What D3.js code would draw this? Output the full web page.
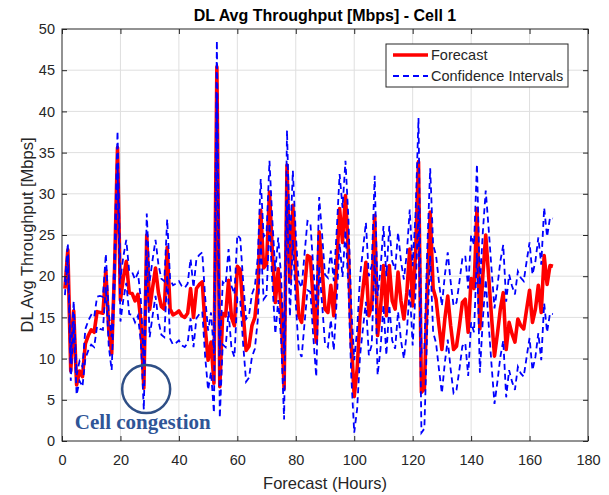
<!DOCTYPE html>
<html>
<head>
<meta charset="utf-8">
<script src="https://cdn.jsdelivr.net/npm/d3@7"></script>
<style>
body{margin:0;background:#fff;}
svg{display:block;}
text{font-family:"Liberation Sans",Arial,sans-serif;fill:#262626;}
.axis path{display:none;}
.axis line{stroke:#262626;}
.axis text{font-size:14.5px;}
.grid line{stroke:#dfdfdf;stroke-width:1;}
.forecast{fill:none;stroke:#ff0000;stroke-width:3.6;stroke-linejoin:round;}
.ci{fill:none;stroke:#0000ff;stroke-width:1.8;stroke-dasharray:6,4;}
.note{fill:#2f5597;font-family:"Liberation Serif","Times New Roman",serif;font-weight:bold;}
</style>
</head>
<body>
<div id="chart"></div>
<script>
// hourly forecast
const hours=d3.range(1,169);

const forecast=[
18.5,23.2,8.5,15.8,6.8,8.5,7.8,11.8,12.8,13.5,
13.2,15.7,15.6,15.5,20.7,13.5,10.6,21.0,35.6,17.1,
19.8,21.8,18.0,17.9,17.0,17.8,14.5,6.4,25.0,16.0,
18.6,21.0,18.0,16.3,16.0,23.5,16.0,15.3,15.5,15.8,
15.2,15.0,15.5,18.5,15.0,18.5,19.0,19.3,13.8,9.8,
12.0,7.0,45.4,6.6,15.5,15.2,19.5,15.0,14.0,21.2,
20.8,15.5,11.0,11.5,14.0,15.0,18.5,28.0,21.0,21.5,
30.2,22.9,16.8,20.9,16.0,6.3,33.5,19.3,28.6,20.9,
15.2,14.4,18.5,22.5,22.3,16.8,12.0,25.4,20.9,16.0,
15.6,18.9,15.2,21.3,28.2,24.1,29.8,22.9,12.0,5.4,
8.7,15.2,18.5,21.7,15.2,16.5,27.4,12.8,16.0,21.3,
15.2,21.3,17.0,16.0,20.5,17.0,14.8,18.0,23.3,16.4,
22.9,33.9,5.9,6.3,18.5,27.8,18.5,17.2,14.0,11.1,
14.8,17.6,14.0,11.1,11.5,14.0,16.8,17.2,13.2,19.7,
18.5,28.2,13.6,20.0,25.0,20.0,15.0,10.3,13.0,16.0,
18.0,11.1,14.4,13.0,12.0,14.8,14.0,13.6,16.0,18.3,
14.4,16.0,18.9,15.6,22.5,19.0,21.3,21.2];

const upper=[
19.3,24.0,9.7,17.0,8.0,9.7,9.0,13.6,14.6,15.3,
15.0,17.5,17.6,17.5,22.7,15.5,12.6,23.0,37.6,19.7,
22.4,24.4,20.6,20.5,19.6,20.4,17.1,9.0,27.6,19.4,
22.0,24.4,21.4,19.7,19.4,26.9,19.6,18.9,19.1,19.4,
18.8,18.6,19.1,22.1,18.6,22.1,22.6,22.9,17.4,13.4,
15.6,10.6,48.6,10.5,19.3,19.0,23.3,18.8,17.8,25.0,
24.6,19.3,14.8,15.3,17.8,18.8,22.3,31.8,24.8,25.3,
34.0,26.7,20.6,24.7,19.8,10.5,37.7,23.5,32.8,25.1,
19.4,18.6,22.7,26.7,26.5,21.0,16.2,29.6,25.1,20.2,
19.8,23.1,19.4,25.5,32.4,28.3,34.0,27.1,16.2,9.8,
13.5,20.0,23.3,26.5,20.0,21.3,32.2,17.6,20.8,26.1,
20.0,26.1,21.8,20.8,25.3,21.8,19.6,22.8,28.1,21.2,
27.7,39.2,10.7,11.1,23.3,33.1,23.8,22.5,19.3,16.4,
20.1,22.9,19.3,16.4,16.8,19.3,22.1,22.5,18.5,25.0,
23.8,33.6,18.9,25.3,30.4,25.8,20.8,16.1,18.8,21.8,
23.8,16.9,20.2,18.8,17.8,20.6,19.8,19.4,21.8,24.1,
20.2,21.8,24.7,21.4,28.3,24.8,27.1,27.0];

const lower=[
17.7,22.4,7.3,14.6,5.6,7.3,6.6,10.0,11.0,11.7,
11.4,13.9,13.6,13.5,18.7,11.5,8.6,19.0,33.6,14.5,
17.2,19.2,15.4,15.3,14.4,15.2,11.9,3.8,22.4,12.6,
15.2,17.6,14.6,12.9,12.6,20.1,12.4,11.7,11.9,12.2,
11.6,11.4,11.9,14.9,11.4,14.9,15.4,15.7,10.2,6.2,
8.4,3.4,41.9,2.8,11.7,11.4,15.7,11.2,10.2,17.4,
17.0,11.7,7.2,7.7,10.2,11.2,14.7,24.2,17.2,17.7,
26.4,19.1,13.0,17.1,12.2,2.6,29.3,15.1,24.4,16.7,
11.0,10.2,14.3,18.3,18.1,12.6,7.8,21.2,16.7,11.8,
11.4,14.7,11.0,17.1,24.0,19.9,25.6,18.7,7.8,1.0,
3.9,10.4,13.7,16.9,10.4,11.7,22.6,8.0,11.2,16.5,
10.4,16.5,12.2,11.2,15.7,12.2,10.0,13.2,18.5,11.6,
18.1,28.6,1.0,1.5,13.7,22.5,13.2,11.9,8.7,5.8,
9.5,12.3,8.7,5.8,6.2,8.7,11.5,11.9,7.9,14.4,
13.2,22.8,8.3,14.7,19.6,14.2,9.2,4.5,7.2,10.2,
12.2,5.3,8.6,7.2,6.2,9.0,8.2,7.8,10.2,12.5,
8.6,10.2,13.1,9.8,16.7,13.2,15.5,15.4];

const xTicks=[0,20,40,60,80,100,120,140,160,180];
const yTicks=[0,5,10,15,20,25,30,35,40,45,50];

const margin={top:29,right:21,bottom:54,left:62},
      W=609-margin.left-margin.right,
      H=495-margin.top-margin.bottom;

const svg=d3.select('#chart').append('svg')
  .attr('width',609).attr('height',495);

const g=svg.append('g').attr('transform',`translate(${margin.left},${margin.top})`);

const x=d3.scaleLinear().domain([0,180]).range([0,W]),
      y=d3.scaleLinear().domain([0,50]).range([H,0]);

g.append('rect').attr('width',W).attr('height',H).attr('fill','#fff');

// grid
const grid=g.append('g').attr('class','grid');
grid.selectAll('.gx').data(xTicks.slice(1,-1)).enter().append('line')
  .attr('x1',d=>x(d)).attr('x2',d=>x(d)).attr('y1',0).attr('y2',H);
grid.selectAll('.gy').data(yTicks.slice(1,-1)).enter().append('line')
  .attr('y1',d=>y(d)).attr('y2',d=>y(d)).attr('x1',0).attr('x2',W);

g.append('defs').append('clipPath').attr('id','clip')
  .append('rect').attr('width',W).attr('height',H);
const plot=g.append('g').attr('clip-path','url(#clip)');

const line=arr=>d3.line().x((d,i)=>x(hours[i])).y(d=>y(d))(arr);

plot.append('path').attr('class','forecast').attr('d',line(forecast));
plot.append('path').attr('class','ci').attr('d',line(upper));
plot.append('path').attr('class','ci').attr('d',line(lower));

// axes, MATLAB style: inward ticks on all four sides
g.append('g').attr('class','axis x').attr('transform',`translate(0,${H})`)
  .call(d3.axisBottom(x).tickValues(xTicks).tickSizeInner(-5).tickSizeOuter(0).tickPadding(14));
g.append('g').attr('class','axis y')
  .call(d3.axisLeft(y).tickValues(yTicks).tickSizeInner(-5).tickSizeOuter(0).tickPadding(7));
g.append('g').attr('class','axis').call(d3.axisTop(x).tickValues(xTicks).tickSizeInner(-5).tickSizeOuter(0).tickFormat(''));
g.append('g').attr('class','axis').attr('transform',`translate(${W},0)`)
  .call(d3.axisRight(y).tickValues(yTicks).tickSizeInner(-5).tickSizeOuter(0).tickFormat(''));

g.append('rect').attr('width',W).attr('height',H)
  .attr('fill','none').attr('stroke','#262626').attr('stroke-width',1);

// labels
svg.append('text').attr('x',margin.left+W/2).attr('y',21)
  .attr('text-anchor','middle').style('font-size','16px').style('font-weight','bold')
  .style('fill','#000').text('DL Avg Throughput [Mbps] - Cell 1');
svg.append('text').attr('x',margin.left+W/2).attr('y',489)
  .attr('text-anchor','middle').style('font-size','16.5px').text('Forecast (Hours)');
svg.append('text').attr('transform',`translate(33,${margin.top+H/2}) rotate(-90)`)
  .attr('text-anchor','middle').style('font-size','16.5px').text('DL Avg Throughput [Mbps]');

// legend
const lg=svg.append('g').attr('transform','translate(386,44)');
lg.append('rect').attr('width',182).attr('height',43)
  .attr('fill','#fff').attr('stroke','#262626').attr('stroke-width',1);
lg.append('line').attr('class','forecast').attr('x1',7).attr('x2',42).attr('y1',11).attr('y2',11);
lg.append('text').attr('x',45).attr('y',16).style('font-size','14.5px').text('Forecast');
lg.append('line').attr('class','ci').attr('x1',7).attr('x2',42).attr('y1',32).attr('y2',32);
lg.append('text').attr('x',45).attr('y',37).style('font-size','14.5px').text('Confidence Intervals');

// annotation
g.append('circle').attr('cx',x(28.8)).attr('cy',y(6.3)).attr('r',24)
  .attr('fill','none').attr('stroke','#2f4f86').attr('stroke-width',2.5);
g.append('text').attr('class','note').attr('x',x(4.4)).attr('y',y(1.5))
  .style('font-size','21px').text('Cell congestion');
</script>
</body>
</html>
